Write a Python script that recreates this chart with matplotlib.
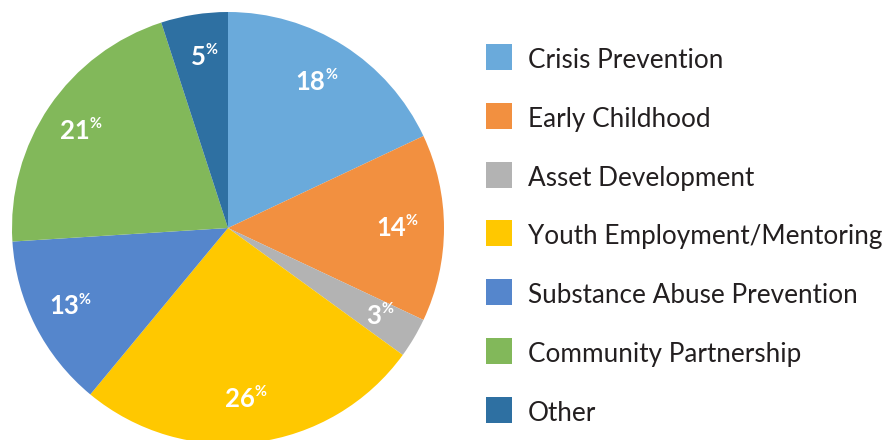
import numpy as np
import matplotlib
matplotlib.use("Agg")
import matplotlib.pyplot as plt
from matplotlib.patches import Rectangle

categories = ["Crisis Prevention", "Early Childhood", "Asset Development",
              "Youth Employment/Mentoring", "Substance Abuse Prevention",
              "Community Partnership", "Other"]
values = [18, 14, 3, 26, 13, 21, 5]
colors = ["#6AAADB", "#F29040", "#B3B3B3", "#FFC800", "#5586CC", "#82B85A", "#2E70A2"]

W, H = 887, 440
fig = plt.figure(figsize=(W / 100, H / 100), dpi=100)
fig.patch.set_facecolor("white")

cx, cy, r = 228, 440 - 228, 216
ax = fig.add_axes([(cx - r) / W, (cy - r) / H, 2 * r / W, 2 * r / H])
ax.axis("off")

wedges, _ = ax.pie(values, colors=colors, startangle=90, counterclock=False,
                   radius=1, wedgeprops=dict(linewidth=0))
ax.set_xlim(-1, 1)
ax.set_ylim(-1, 1)
ax.set_aspect("equal")
for w in wedges:
    w.set_clip_on(False)

for w, v in zip(wedges, values):
    ang = np.deg2rad((w.theta1 + w.theta2) / 2)
    x, y = 0.8 * np.cos(ang), 0.8 * np.sin(ang)
    ax.annotate(str(v), (x, y), xytext=(3.5, 0), textcoords="offset points",
                ha="right", va="center", color="white", fontsize=18.5,
                fontweight="bold", family="Lato")
    ax.annotate("%", (x, y), xytext=(3.5, 5), textcoords="offset points",
                ha="left", va="center", color="white", fontsize=10.5,
                fontweight="bold", family="Lato")

# legend
y0, dy = 57, 58.8
for i, (lab, c) in enumerate(zip(categories, colors)):
    yc = H - (y0 + i * dy)
    fig.patches.append(Rectangle((486 / W, (yc - 13) / H), 26 / W, 26 / H,
                                 transform=fig.transFigure, facecolor=c,
                                 edgecolor="none"))
    fig.text(528 / W, (yc - 11) / H, lab, ha="left", va="baseline", fontsize=18.8,
             family="Lato", color="#231F20")

fig.savefig("out.png", dpi=100)
